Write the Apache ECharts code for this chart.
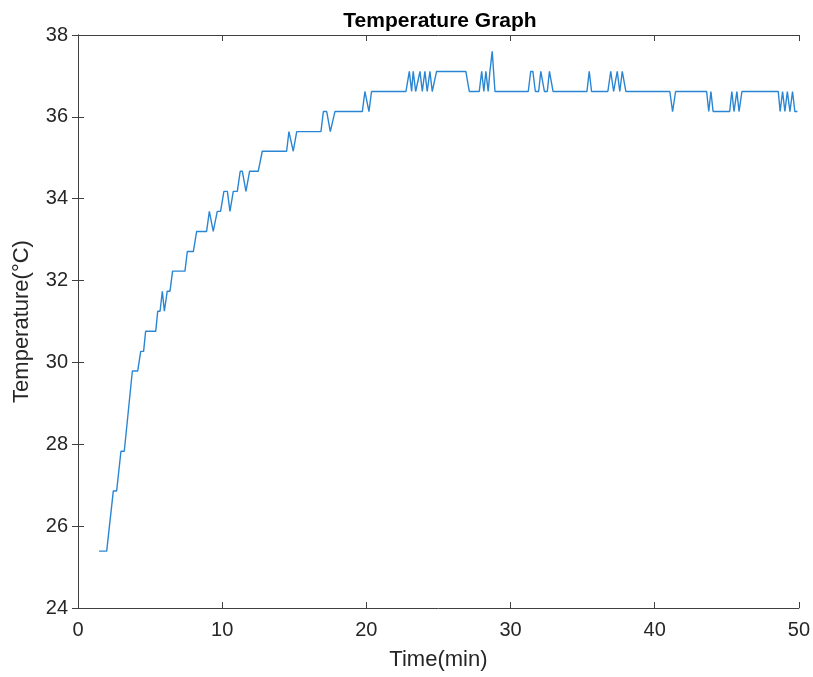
<!DOCTYPE html>
<html>
<head>
<meta charset="utf-8">
<script src="https://cdn.jsdelivr.net/npm/echarts@6/dist/echarts.min.js"></script>
<style>
html,body{margin:0;padding:0;background:#fff;}
#chart{width:813px;height:677px;}
</style>
</head>
<body>
<div id="chart"></div>
<script>
// Time in minutes
var timeMin = [
  1.46, 1.99, 2.45, 2.68, 2.98, 3.21, 3.77, 4.14, 4.35, 4.55,
  4.69, 5.39, 5.53, 5.69, 5.85, 5.99, 6.19, 6.38, 6.56, 7.42,
  7.58, 8.00, 8.23, 8.92, 9.11, 9.38, 9.66, 9.89, 10.12, 10.36,
  10.54, 10.77, 11.05, 11.25, 11.40, 11.65, 11.90, 12.50, 12.78, 14.47,
  14.63, 14.93, 15.17, 16.85, 17.02, 17.25, 17.50, 17.82, 19.72, 19.90,
  20.18, 20.36, 22.75, 22.98, 23.14, 23.25, 23.42, 23.72, 23.88, 24.06,
  24.22, 24.41, 24.57, 24.87, 26.90, 27.14, 27.83, 28.00, 28.15, 28.29,
  28.45, 28.57, 28.73, 28.92, 31.23, 31.40, 31.55, 31.72, 31.95, 32.10,
  32.20, 32.35, 32.55, 32.70, 32.80, 32.95, 35.30, 35.46, 35.62, 36.75,
  36.95, 37.15, 37.40, 37.58, 37.75, 38.00, 41.05, 41.24, 41.45, 43.60,
  43.75, 43.90, 44.05, 45.20, 45.35, 45.50, 45.70, 45.85, 46.05, 48.57,
  48.70, 48.87, 49.03, 49.20, 49.38, 49.56, 49.72, 49.90
];
// Temperature in °C
var tempC = [
  25.39, 25.39, 26.86, 26.86, 27.83, 27.83, 29.79, 29.79, 30.27, 30.27,
  30.76, 30.76, 31.25, 31.25, 31.74, 31.25, 31.74, 31.74, 32.23, 32.23,
  32.71, 32.71, 33.20, 33.20, 33.69, 33.20, 33.69, 33.69, 34.18, 34.18,
  33.69, 34.18, 34.18, 34.67, 34.67, 34.18, 34.67, 34.67, 35.16, 35.16,
  35.64, 35.16, 35.64, 35.64, 36.13, 36.13, 35.64, 36.13, 36.13, 36.62,
  36.13, 36.62, 36.62, 37.11, 36.62, 37.11, 36.62, 37.11, 36.62, 37.11,
  36.62, 37.11, 36.62, 37.11, 37.11, 36.62, 36.62, 37.11, 36.62, 37.11,
  36.62, 37.11, 37.60, 36.62, 36.62, 37.11, 37.11, 36.62, 36.62, 37.11,
  37.11, 36.62, 36.62, 37.11, 37.11, 36.62, 36.62, 37.11, 36.62, 36.62,
  37.11, 36.62, 37.11, 36.62, 37.11, 36.62, 36.62, 36.13, 36.62, 36.62,
  36.13, 36.62, 36.13, 36.13, 36.62, 36.13, 36.62, 36.13, 36.62, 36.62,
  36.13, 36.62, 36.13, 36.62, 36.13, 36.62, 36.13, 36.13
];
var xTicks = [0, 10, 20, 30, 40, 50];
var yTicks = [24, 26, 28, 30, 32, 34, 36, 38];

var points = timeMin.map(function (t, i) { return [t, tempC[i]]; });

var axisColor = '#404040';
var textColor = '#262626';
var fontFam = 'Liberation Sans, Arial, sans-serif';

var chart = echarts.init(document.getElementById('chart'));
var common = {
  axisLine: { show: true, lineStyle: { color: axisColor, width: 1 } },
  axisTick: { show: true, inside: true, length: 6, lineStyle: { color: axisColor } },
  splitLine: { show: false }
};
chart.setOption({
  animation: false,
  backgroundColor: '#ffffff',
  title: {
    text: 'Temperature Graph',
    left: 435, textAlign: 'center', top: 6,
    textStyle: { fontFamily: fontFam, fontWeight: 'bold', fontSize: 21, color: '#000' }
  },
  grid: { left: 78, right: 14, top: 35, bottom: 69, containLabel: false },
  xAxis: [
    Object.assign({
      type: 'value', position: 'bottom',
      min: xTicks[0], max: xTicks[xTicks.length - 1], interval: 10,
      name: 'Time(min)', nameLocation: 'middle', nameGap: 41,
      nameTextStyle: { fontFamily: fontFam, fontSize: 22, color: textColor },
      axisLabel: { fontFamily: fontFam, fontSize: 20, color: textColor, margin: 12 }
    }, common),
    Object.assign({
      type: 'value', position: 'top',
      min: xTicks[0], max: xTicks[xTicks.length - 1], interval: 10,
      axisLabel: { show: false }
    }, common)
  ],
  yAxis: [
    Object.assign({
      type: 'value', position: 'left',
      min: yTicks[0], max: yTicks[yTicks.length - 1], interval: 2,
      name: 'Temperature(°C)', nameLocation: 'middle', nameGap: 45,
      nameTextStyle: { fontFamily: fontFam, fontSize: 22, color: textColor },
      axisLabel: { fontFamily: fontFam, fontSize: 20, color: textColor, margin: 10 }
    }, common),
    Object.assign({
      type: 'value', position: 'right',
      min: yTicks[0], max: yTicks[yTicks.length - 1], interval: 2,
      axisLabel: { show: false }
    }, common)
  ],
  series: [{
    type: 'line',
    data: points,
    xAxisIndex: 0, yAxisIndex: 0,
    showSymbol: false,
    smooth: false,
    lineStyle: { color: '#2a86d3', width: 1.4 }
  }]
});
</script>
</body>
</html>
